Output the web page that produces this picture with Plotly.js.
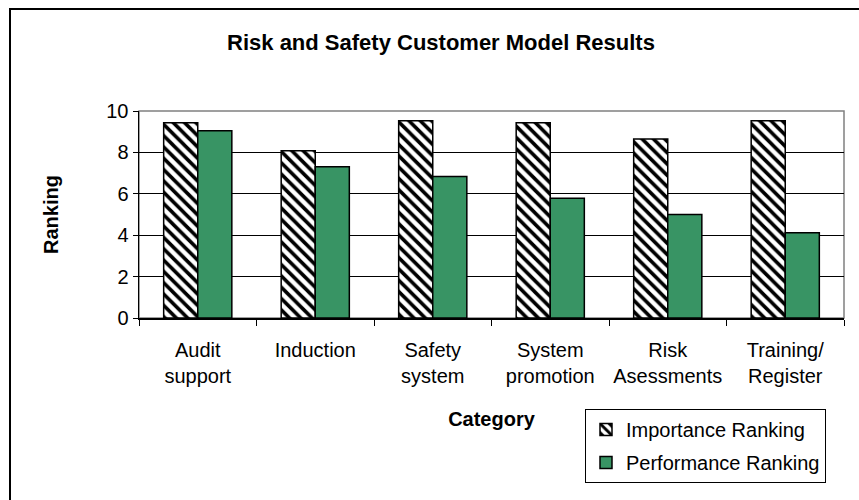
<!DOCTYPE html>
<html>
<head>
<meta charset="utf-8">
<script src="https://cdn.plot.ly/plotly-3.0.1.min.js"></script>
<style>
  html, body { margin: 0; padding: 0; background: #fff; }
  #wrap { position: relative; width: 859px; height: 500px; overflow: hidden; }
  #chart { width: 859px; height: 500px; }
  #frame {
    position: absolute; left: 9px; top: 8px; width: 900px; height: 600px;
    border-left: 2px solid #000; border-top: 2px solid #000;
    pointer-events: none;
  }
</style>
</head>
<body>
<div id="wrap">
  <div id="chart"></div>
  <div id="frame"></div>
</div>
<script>
// Chart data
const categories = ['Audit<br>support', 'Induction', 'Safety<br>system', 'System<br>promotion', 'Risk<br>Asessments', 'Training/<br>Register'];
const importanceRanking = [9.43, 8.08, 9.53, 9.43, 8.65, 9.53];
const performanceRanking = [9.05, 7.31, 6.83, 5.78, 5.0, 4.12];
const seriesNames = ['Importance Ranking', 'Performance Ranking'];

const FONT = 'Liberation Sans, Arial, sans-serif';

const traces = [
    {
        x: categories,
        y: importanceRanking,
        type: 'bar',
        name: seriesNames[0],
        legendgroup: 'a',
        marker: {
            color: '#ffffff',
            line: { color: '#000000', width: 1.5 },
            pattern: { shape: '\\', fgcolor: '#000000', bgcolor: '#ffffff', size: 8, solidity: 0.45 }
        },
        hoverinfo: 'skip'
    },
    {
        x: categories,
        y: performanceRanking,
        type: 'bar',
        name: seriesNames[1],
        legendgroup: 'b',
        marker: {
            color: '#389464',
            line: { color: '#000000', width: 1.5 }
        },
        hoverinfo: 'skip'
    }
];

const layout = {
    width: 859,
    height: 500,
    margin: { l: 139, r: 15, t: 111, b: 182 },
    paper_bgcolor: '#ffffff',
    plot_bgcolor: '#ffffff',
    font: { family: FONT, size: 20, color: '#000000' },
    title: {
        text: '<b>Risk and Safety Customer Model Results</b>',
        font: { family: FONT, size: 22, color: '#000000' },
        x: 441 / 859,
        xanchor: 'center',
        xref: 'container',
        y: 1 - 42 / 500,
        yanchor: 'middle',
        yref: 'container'
    },
    barmode: 'group',
    bargap: 0.42,
    bargroupgap: 0,
    showlegend: true,
    legend: {
        x: (585 - 139) / 705,
        y: 1 - (409 - 111) / 207,
        xanchor: 'left',
        yanchor: 'top',
        bordercolor: '#000000',
        borderwidth: 1,
        bgcolor: '#ffffff',
        traceorder: 'grouped',
        tracegroupgap: 4,
        font: { family: FONT, size: 20, color: '#000000' }
    },
    xaxis: {
        type: 'category',
        tickson: 'boundaries',
        tickangle: 0,
        ticks: 'outside',
        ticklen: 6,
        tickcolor: '#000000',
        showline: true,
        linecolor: '#000000',
        linewidth: 1.5,
        showgrid: false,
        ticklabelstandoff: 13,
        tickfont: { family: FONT, size: 20, color: '#000000' },
        title: {
            text: '<b>Category</b>',
            font: { family: FONT, size: 20, color: '#000000' },
            standoff: 26
        },
        automargin: false,
        fixedrange: true
    },
    yaxis: {
        range: [0, 10],
        dtick: 2,
        tick0: 0,
        ticks: 'outside',
        ticklen: 5,
        tickcolor: '#000000',
        showline: true,
        linecolor: '#000000',
        linewidth: 1.5,
        showgrid: true,
        gridcolor: '#000000',
        gridwidth: 1,
        zeroline: false,
        tickfont: { family: FONT, size: 20, color: '#000000' },
        title: {
            text: '<b>Ranking</b>',
            font: { family: FONT, size: 20, color: '#000000' },
            standoff: 42
        },
        automargin: false,
        fixedrange: true
    },
    shapes: [
        {
            type: 'rect', xref: 'paper', yref: 'paper',
            x0: 0, x1: 1, y0: 0, y1: 1,
            line: { color: '#808080', width: 1.5 },
            layer: 'below'
        }
    ]
};

Plotly.newPlot('chart', traces, layout, { displayModeBar: false, staticPlot: true });
</script>
</body>
</html>
